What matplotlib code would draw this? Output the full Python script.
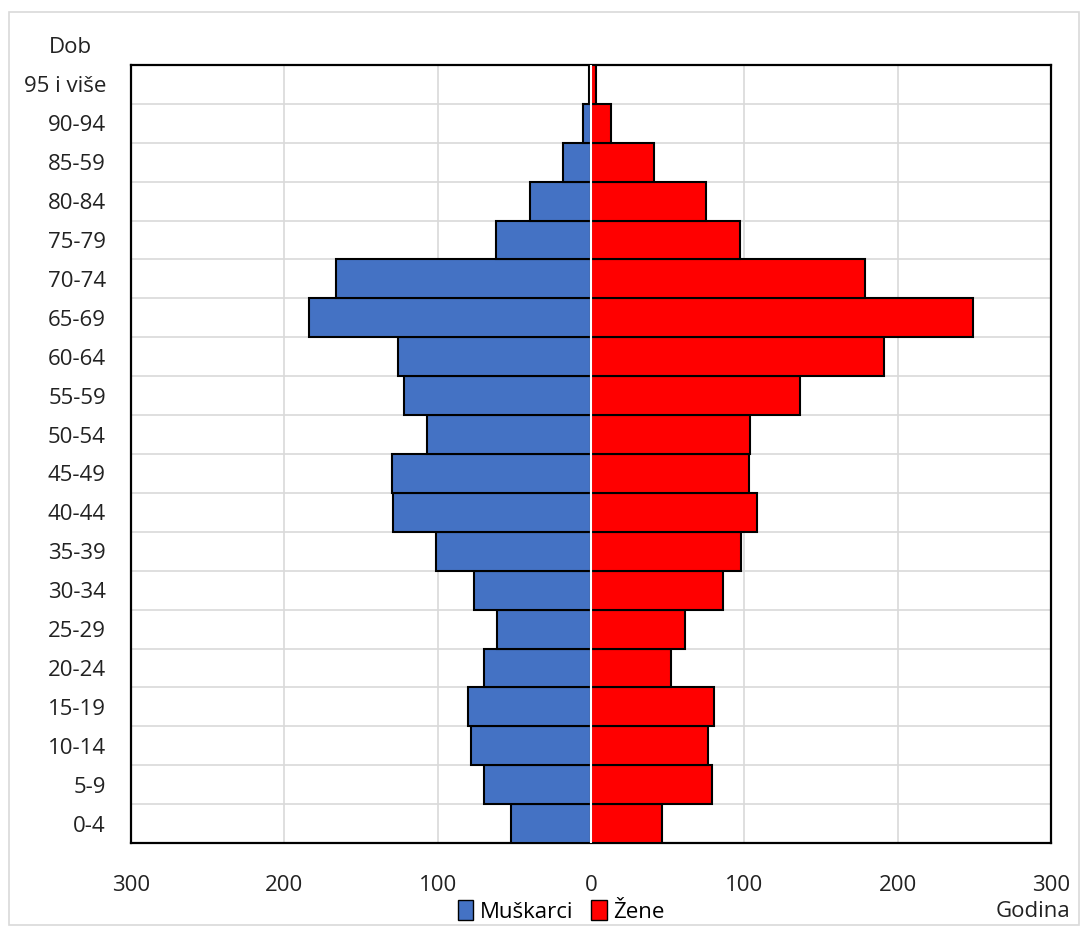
import numpy as np
import matplotlib
matplotlib.use("Agg")
from matplotlib import pyplot as plt
from matplotlib.patches import Patch, Rectangle

# age groups, bottom to top
groups = ["0-4", "5-9", "10-14", "15-19", "20-24", "25-29", "30-34", "35-39",
          "40-44", "45-49", "50-54", "55-59", "60-64", "65-69", "70-74",
          "75-79", "80-84", "85-59", "90-94", "95 i više"]
men = [52, 70, 78, 80, 70, 61, 76, 101, 129, 130, 107, 122, 126, 184, 166,
       62, 40, 18, 5, 1]
women = [46, 79, 76, 80, 52, 61, 86, 98, 108, 103, 104, 136, 191, 249, 179,
         97, 75, 41, 13, 3]
xticks = [-300, -200, -100, 0, 100, 200, 300]

plt.rcParams['font.family'] = ['Open Sans', 'DejaVu Sans']
plt.rcParams['font.size'] = 16

fig = plt.figure(figsize=(10.88, 9.31), dpi=100)
ax = fig.add_axes([0.1204, 0.0945, 0.8456, 0.8357])

# outer light frame
fig.patches.append(Rectangle((0.008, 0.006), 0.984, 0.981, transform=fig.transFigure,
                             fill=False, edgecolor='#d9d9d9', linewidth=1.2))

y = np.arange(len(groups))
ax.barh(y, [-m for m in men], height=1.0, color='#4472C4', edgecolor='black',
        linewidth=1.5, zorder=3, label='Muškarci')
ax.barh(y, women, height=1.0, color='#FF0000', edgecolor='black',
        linewidth=1.5, zorder=3, label='Žene')
ax.axvline(0, color='white', linewidth=1.5, zorder=4)

ax.set_xlim(-300, 300)
ax.set_ylim(-0.5, len(groups) - 0.5)
ax.set_xticks(xticks)
ax.set_xticklabels([str(abs(v)) for v in xticks])
ax.set_yticks(y)
ax.set_yticklabels(groups)
ax.set_yticks(np.arange(len(groups) + 1) - 0.5, minor=True)

ax.grid(axis='x', color='#d9d9d9', linewidth=1.2, zorder=0)
ax.grid(axis='y', which='minor', color='#d9d9d9', linewidth=1.2, zorder=0)
ax.tick_params(axis='both', which='both', length=0, colors='#222222')
ax.tick_params(axis='x', pad=23)
ax.tick_params(axis='y', pad=18)
for s in ax.spines.values():
    s.set_linewidth(1.6)
    s.set_color('black')

fig.text(0.065, 0.949, "Dob", ha='center', va='center', fontsize=16, color='#222222')
fig.text(0.984, 0.021, "Godina", ha='right', va='center', fontsize=16, color='#222222')

leg = fig.legend(handles=[Patch(facecolor='#4472C4', edgecolor='black', label='Muškarci'),
                          Patch(facecolor='#FF0000', edgecolor='black', label='Žene')],
                 loc='center', bbox_to_anchor=(0.516, 0.021), ncol=2, frameon=False,
                 handlelength=0.7, handleheight=1.0, handletextpad=0.3, columnspacing=0.8,
                 fontsize=16)

fig.savefig("out.png", dpi=100)
